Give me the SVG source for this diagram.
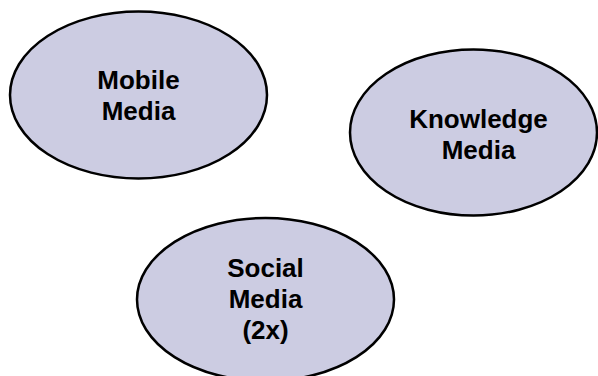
<svg xmlns="http://www.w3.org/2000/svg" width="598" height="376" viewBox="0 0 598 376">
<style>
.node ellipse{fill:#CCCCE2;stroke:#000;stroke-width:2.5}
.node text{font-family:"Liberation Sans",Arial,sans-serif;font-weight:bold;font-size:26px;fill:#000;text-anchor:middle}
</style>
<rect width="598" height="376" fill="#fff"/>
<g id="connectors"></g>
<g id="mobile-media" class="node">
<ellipse cx="138.5" cy="95" rx="128.5" ry="83.5"/>
<text x="138.5" y="89">Mobile</text>
<text x="138.5" y="120">Media</text>
</g>
<g id="knowledge-media" class="node">
<ellipse cx="473.5" cy="132.5" rx="123.5" ry="83"/>
<text x="478.5" y="127.5">Knowledge</text>
<text x="478.5" y="158.5">Media</text>
</g>
<g id="social-media" class="node">
<ellipse cx="265.5" cy="299.5" rx="128.5" ry="81.5"/>
<text x="265.5" y="277">Social</text>
<text x="265.5" y="308">Media</text>
<text x="265.5" y="339">(2x)</text>
</g>
</svg>
